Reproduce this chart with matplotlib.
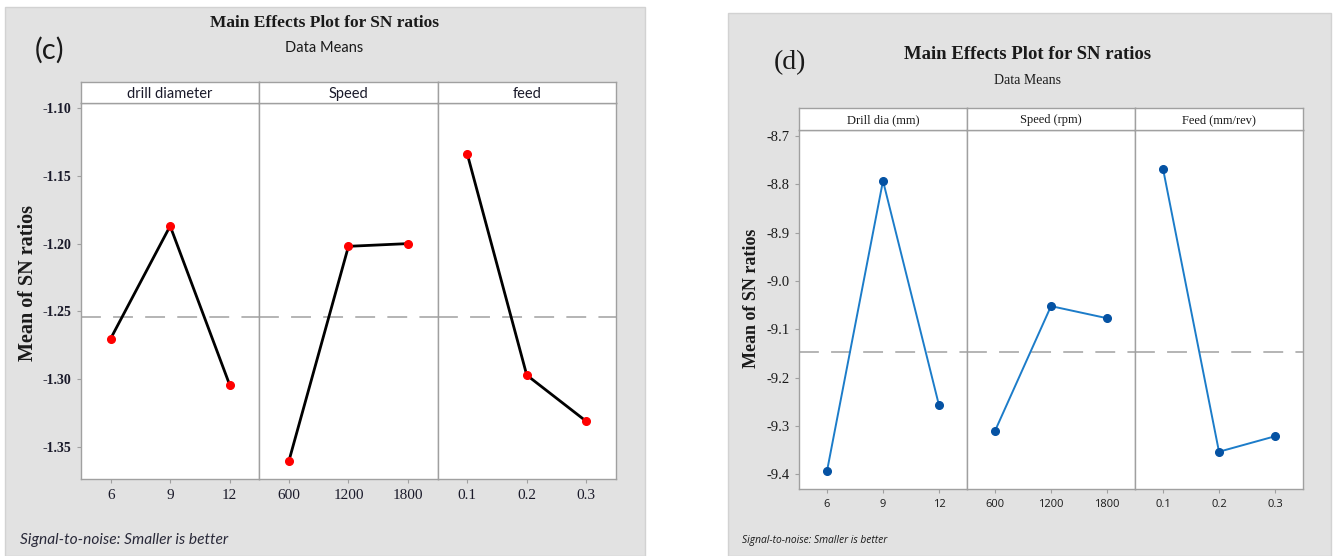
import matplotlib
matplotlib.use("Agg")
import matplotlib.pyplot as plt
from matplotlib.patches import Rectangle
import numpy as np

# factor levels (shown as tick labels)
drill_levels = ["6", "9", "12"]
speed_levels = ["600", "1200", "1800"]
feed_levels = ["0.1", "0.2", "0.3"]

# panel (c) mean SN ratios
c_drill = [-1.270, -1.187, -1.304]
c_speed = [-1.360, -1.202, -1.200]
c_feed = [-1.134, -1.297, -1.331]
c_titles = ["drill diameter", "Speed", "feed"]
c_yticks = [-1.10, -1.15, -1.20, -1.25, -1.30, -1.35]

# panel (d) mean SN ratios
d_drill = [-9.393, -8.793, -9.257]
d_speed = [-9.310, -9.052, -9.077]
d_feed = [-8.768, -9.353, -9.321]
d_titles = ["Drill dia (mm)", "Speed (rpm)", "Feed (mm/rev)"]
d_yticks = [-8.7, -8.8, -8.9, -9.0, -9.1, -9.2, -9.3, -9.4]

W, H = 1333, 556
LATO = ["Lato", "DejaVu Sans"]
SANS = ["Open Sans", "DejaVu Sans"]
SERIF = ["Liberation Serif", "DejaVu Serif"]
EDGE = "#a0a0a0"
BG = "#e2e2e2"

fig = plt.figure(figsize=(W / 100, H / 100), dpi=100)


def box(x0, y0, x1, y1):
    return [x0 / W, 1 - y1 / H, (x1 - x0) / W, (y1 - y0) / H]


def ftext(x, y, s, **kw):
    fig.text(x / W, 1 - y / H, s, **kw)


def panel(left, width, top_strip, top, bottom, series, titles, levels,
          ylim, yticks, yfmt, style, tickfont, xtickfont, stripfont):
    axes = []
    for i, (vals, title, lev) in enumerate(zip(series, titles, levels)):
        x0 = left + i * width
        ax = fig.add_axes(box(x0, top, x0 + width, bottom))
        ax.set_facecolor("white")
        pos = np.arange(1, len(vals) + 1)
        ax.plot(pos, vals, color=style["line"], lw=style["lw"], zorder=3)
        ax.plot(pos, vals, "o", color=style["marker"], ms=style["ms"], zorder=4)
        ax.set_xlim(0.5, 3.5)
        ax.set_ylim(*ylim)
        ax.set_xticks(pos)
        ax.set_xticklabels(lev, fontdict=xtickfont)
        ax.set_yticks(yticks)
        if i == 0:
            ax.set_yticklabels([yfmt.format(t) for t in yticks], fontdict=tickfont)
        else:
            ax.tick_params(axis="y", left=False, labelleft=False)
        ax.tick_params(colors=EDGE, length=3, width=0.8, pad=4)
        for lab in ax.get_xticklabels() + ax.get_yticklabels():
            lab.set_color(style["tickcolor"])
        for sp in ax.spines.values():
            sp.set_color(EDGE)
            sp.set_linewidth(1.0)
        # strip header
        sx = fig.add_axes(box(x0, top_strip, x0 + width, top))
        sx.set_facecolor("white")
        sx.set_xticks([])
        sx.set_yticks([])
        for sp in sx.spines.values():
            sp.set_color(EDGE)
            sp.set_linewidth(1.0)
        sx.text(0.5, 0.45, title, ha="center", va="center", transform=sx.transAxes,
                **stripfont)
        axes.append(ax)
    grand = np.mean(np.concatenate(series))
    for ax in axes:
        ax.axhline(grand, color=EDGE, lw=1.1, ls=(0, (13, 8)), zorder=2)
    return axes


# gray panel backgrounds
fig.patches.append(Rectangle((5 / W, 0), 640 / W, 1 - 7 / H, transform=fig.transFigure,
                             facecolor=BG, edgecolor="#d2d2d2", lw=1, zorder=-5))
fig.patches.append(Rectangle((728 / W, 0), 603 / W, 1 - 13 / H, transform=fig.transFigure,
                             facecolor=BG, edgecolor="#d2d2d2", lw=1, zorder=-5))

# ---- panel (c) ----
panel(81, 178.3, 82, 103, 479, [c_drill, c_speed, c_feed], c_titles,
      [drill_levels, speed_levels, feed_levels], (-1.3736, -1.0963), c_yticks, "{:.2f}",
      dict(line="black", lw=2.0, marker="#ff0000", ms=5.5, tickcolor="#1a1a2a"),
      dict(family=SERIF, size=10, weight="bold"),
      dict(family=SERIF, size=11),
      dict(family=LATO, size=10.5, color="#1a1a2a"))

ftext(324, 23, "Main Effects Plot for SN ratios", ha="center", va="center",
      family=SERIF, weight="bold", size=12.5, color="#1a1a1a")
ftext(324, 48, "Data Means", ha="center", va="center", family=LATO, size=10.5,
      color="#1a1a1a")
ftext(50, 50, "(c)", ha="center", va="center", family=LATO, size=21, color="#1a1a1a")
ftext(28, 283, "Mean of SN ratios", ha="center", va="center", rotation=90,
      family=SERIF, weight="bold", size=14.5, color="#1a1a1a")
ftext(20, 540, "Signal-to-noise: Smaller is better", ha="left", va="center",
      family=LATO, style="italic", size=11.2, color="#2a2a3a")

# ---- panel (d) ----
panel(799, 168, 108, 130, 489, [d_drill, d_speed, d_feed], d_titles,
      [drill_levels, speed_levels, feed_levels], (-9.430, -8.688), d_yticks, "{:.1f}",
      dict(line="#1c7cc9", lw=1.4, marker="#0552a3", ms=5.5, tickcolor="#1a1a1a"),
      dict(family=SERIF, size=10.5),
      dict(family=SANS, size=8),
      dict(family=SERIF, size=9, color="#1a1a1a"))

ftext(1028, 54, "Main Effects Plot for SN ratios", ha="center", va="center",
      family=SERIF, weight="bold", size=13.5, color="#1a1a1a")
ftext(1028, 80, "Data Means", ha="center", va="center", family=SERIF, size=10,
      color="#1a1a1a")
ftext(790, 63, "(d)", ha="center", va="center", family=SERIF, size=20, color="#1a1a1a")
ftext(752, 298, "Mean of SN ratios", ha="center", va="center", rotation=90,
      family=SERIF, weight="bold", size=13, color="#1a1a1a")
ftext(742, 540, "Signal-to-noise: Smaller is better", ha="left", va="center",
      family=SANS, style="italic", size=7.4, color="#1a1a1a")

fig.savefig("out.png", dpi=100, facecolor="white")
